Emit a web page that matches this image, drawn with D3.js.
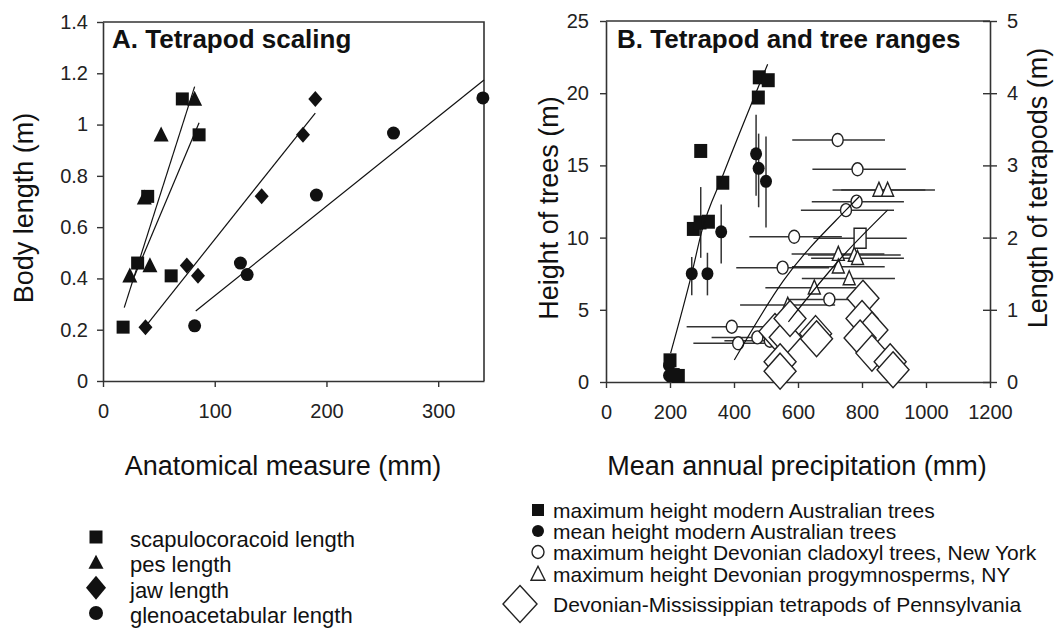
<!DOCTYPE html>
<html>
<head>
<meta charset="utf-8">
<script src="https://cdn.jsdelivr.net/npm/d3@7"></script>
<style>
  body { margin: 0; background: #fff; }
  svg { display: block; font-family: "Liberation Sans", Arial, sans-serif; }
</style>
</head>
<body>
<svg id="chart" width="1060" height="639"></svg>
<script>
// ---- panel A: anatomical measure (mm) vs body length (m)
const scapulocoracoid = [[18, 0.21], [31, 0.46], [40, 0.72], [61, 0.41], [71, 1.10], [86, 0.96]];
const pes = [[24, 0.41], [37, 0.715], [42, 0.45], [52, 0.96], [82, 1.10]];
const jaw = [[38, 0.21], [75, 0.45], [85, 0.41], [142, 0.72], [179, 0.96], [190, 1.10]];
const glenoacetabular = [[82, 0.215], [123, 0.46], [129, 0.415], [191, 0.725], [260, 0.967], [340, 1.104]];

const scapFit = [[28, 0.407], [86, 1.007]];
const pesFit = [[19, 0.286], [82, 1.148]];
const jawFit = [[39, 0.218], [190, 1.045]];
const glenoFit = [[83, 0.273], [341, 1.174]];

const aTicksX = [0, 100, 200, 300];
const aTicksY = [0, 0.2, 0.4, 0.6, 0.8, 1, 1.2, 1.4];

// ---- panel B: mean annual precipitation (mm) vs height (m)
// [precip, height]
const maxAustralian = [[200, 1.5], [210, 0.48], [226, 0.42], [273, 10.6], [294, 11.05], [320, 11.1],
  [296, 16.0], [365, 13.8], [476, 19.7], [479, 21.1], [507, 20.9]];
// [precip, height, low, high]
const meanAustralian = [[197, 1.15, 1.15, 1.15], [197, 0.45, 0.45, 0.45], [268, 7.5, 6.0, 8.65],
  [296, 11.0, 8.6, 13.5], [317, 7.5, 6.0, 8.95], [360, 10.4, 8.2, 12.3],
  [469, 15.8, 12.9, 18.5], [477, 14.8, 12.1, 17.2], [500, 13.9, 10.7, 17.0]];
// [precip, height, precip low, precip high]
const cladoxyl = [[724, 16.76, 582, 872], [786, 14.73, 645, 937], [783, 12.49, 643, 931],
  [750, 11.9, 609, 900], [588, 10.06, 448, 737], [552, 7.92, 407, 697], [698, 5.72, 564, 846],
  [393, 3.83, 252, 570], [413, 2.68, 273, 512], [473, 3.09, 330, 518], [512, 2.86, 370, 560]];
const progymno = [[853, 13.3, 708, 998], [880, 13.3, 735, 1028], [726, 8.86, 580, 870],
  [776, 8.8, 631, 921], [786, 8.57, 641, 931], [726, 7.98, 581, 871], [760, 7.17, 612, 903],
  [651, 6.53, 498, 792], [568, 5.33, 419, 716]];
const progymnoBox = [[794, 9.95, 648, 940]];
// [precip, tetrapod length (m)]
const tetrapods = [[528, 0.70], [560, 0.62], [575, 0.88], [655, 0.67], [658, 0.60], [544, 0.28], [544, 0.15],
  [803, 1.16], [800, 0.88], [831, 0.72], [794, 0.61], [831, 0.40], [888, 0.28], [897, 0.17]];

const australFit = [[202, 2.0], [268, 7.5], [300, 10.5], [365, 14.3], [505, 22.0]];
const cladoxylFit = [[401, 1.52], [554, 7.0], [752, 11.95], [791, 12.83]];
const progymnoFit = [[570, 4.17], [731, 8.5], [880, 11.9]];

const bTicksX = [0, 200, 400, 600, 800, 1000, 1200];
const bTicksY = [0, 5, 10, 15, 20, 25];
const bTicksY2 = [0, 1, 2, 3, 4, 5];

const legendA = ['scapulocoracoid length', 'pes length', 'jaw length', 'glenoacetabular length'];
const legendB = ['maximum height modern Australian trees', 'mean height modern Australian trees',
  'maximum height Devonian cladoxyl trees, New York', 'maximum height Devonian progymnosperms, NY',
  'Devonian-Mississippian tetrapods of Pennsylvania'];

const AXIS = '#333';
const INK = '#111';
const svg = d3.select('#chart');

main();

function main () {
  drawPanelA();
  drawPanelB();
  drawLegendA();
  drawLegendB();
}

// marker outline centred on 0,0
function shape (type, w, h) {
  if (type === 'square') return `M${-w / 2},${-h / 2}h${w}v${h}h${-w}Z`;
  if (type === 'triangle') return `M0,${-h * 0.55}L${w / 2},${h * 0.45}L${-w / 2},${h * 0.45}Z`;
  if (type === 'diamond') return `M0,${-h / 2}L${w / 2},0L0,${h / 2}L${-w / 2},0Z`;
  // ellipse
  const rx = w / 2, ry = h / 2;
  return `M${-rx},0a${rx},${ry} 0 1,0 ${w},0a${rx},${ry} 0 1,0 ${-w},0Z`;
}

function points (g, data, x, y, type, w, h, open) {
  g.append('g').selectAll('path').data(data).join('path')
    .attr('d', shape(type, w, h))
    .attr('transform', d => `translate(${x(d[0])},${y(d[1])})`)
    .attr('fill', open ? '#fff' : INK)
    .attr('stroke', open ? '#222' : 'none')
    .attr('stroke-width', open ? 1.4 : 0);
}

function fitLine (g, data, x, y) {
  const line = d3.line().x(d => x(d[0])).y(d => y(d[1])).curve(d3.curveMonotoneX);
  g.append('path').attr('d', line(data))
    .attr('fill', 'none').attr('stroke', INK).attr('stroke-width', 1.2);
}

function styleAxis (sel) {
  sel.select('.domain').attr('stroke', AXIS).attr('stroke-width', 1.6);
  sel.selectAll('.tick line').attr('stroke', AXIS).attr('stroke-width', 1.4);
  sel.selectAll('.tick text').attr('fill', '#222').attr('font-size', '20px')
    .attr('font-family', '"Liberation Sans", Arial, sans-serif');
}

function axisTitle (text, x, y, rotate) {
  svg.append('text').text(text)
    .attr('transform', `translate(${x},${y})` + (rotate ? ' rotate(-90)' : ''))
    .attr('text-anchor', 'middle')
    .attr('font-size', '27px')
    .attr('fill', '#111');
}

function panelTitle (text, x, y) {
  svg.append('text').text(text)
    .attr('x', x).attr('y', y)
    .attr('font-size', '26px')
    .attr('font-weight', 700)
    .attr('fill', '#111');
}

function drawPanelA () {
  const x = d3.scaleLinear().domain([0, 341]).range([103, 484]);
  const y = d3.scaleLinear().domain([0, 1.4]).range([381, 22]);
  const g = svg.append('g');
  const fmt = d3.format('~g');

  g.append('path')
    .attr('d', `M${x(0)},${y(1.4)}H${x(341)}V${y(0)}`)
    .attr('fill', 'none').attr('stroke', AXIS).attr('stroke-width', 1.6);

  g.append('g').attr('transform', `translate(0,${y(0)})`)
    .call(d3.axisBottom(x).tickValues(aTicksX).tickFormat(fmt).tickSize(6).tickSizeOuter(0).tickPadding(17))
    .call(styleAxis);
  g.append('g').attr('transform', `translate(${x(0)},0)`)
    .call(d3.axisLeft(y).tickValues(aTicksY).tickFormat(fmt).tickSize(6).tickSizeOuter(0).tickPadding(9))
    .call(styleAxis);

  fitLine(g, scapFit, x, y);
  fitLine(g, pesFit, x, y);
  fitLine(g, jawFit, x, y);
  fitLine(g, glenoFit, x, y);

  points(g, glenoacetabular, x, y, 'circle', 13, 13);
  points(g, jaw, x, y, 'diamond', 14, 16);
  points(g, pes, x, y, 'triangle', 15, 15);
  points(g, scapulocoracoid, x, y, 'square', 13, 13);

  panelTitle('A. Tetrapod scaling', 112, 48);
  axisTitle('Body length (m)', 33, 208, true);
  axisTitle('Anatomical measure (mm)', 283, 475, false);
}

function drawPanelB () {
  const x = d3.scaleLinear().domain([0, 1200]).range([606, 990]);
  const y = d3.scaleLinear().domain([0, 25]).range([382, 21]);
  const y2 = d3.scaleLinear().domain([0, 5]).range([382, 21]);
  const g = svg.append('g');
  const fmt = d3.format('d');

  g.append('line')
    .attr('x1', x(0)).attr('x2', x(1200)).attr('y1', y(25)).attr('y2', y(25))
    .attr('stroke', AXIS).attr('stroke-width', 1.6);

  g.append('g').attr('transform', `translate(0,${y(0)})`)
    .call(d3.axisBottom(x).tickValues(bTicksX).tickFormat(fmt).tickSize(6).tickSizeOuter(0).tickPadding(17))
    .call(styleAxis);
  g.append('g').attr('transform', `translate(${x(0)},0)`)
    .call(d3.axisLeft(y).tickValues(bTicksY).tickFormat(fmt).tickSize(6).tickSizeOuter(0).tickPadding(11))
    .call(styleAxis);
  const right = g.append('g').attr('transform', `translate(${x(1200)},0)`)
    .call(d3.axisRight(y2).tickValues(bTicksY2).tickFormat(fmt).tickSize(7).tickSizeOuter(0).tickPadding(10))
    .call(styleAxis);
  right.selectAll('.tick line').attr('x1', -7);

  // precipitation ranges
  const bars = g.append('g').attr('stroke', '#333').attr('stroke-width', 1.5);
  bars.selectAll('line.h').data(cladoxyl.concat(progymno, progymnoBox)).join('line')
    .attr('class', 'h')
    .attr('x1', d => x(d[2])).attr('x2', d => x(d[3]))
    .attr('y1', d => y(d[1])).attr('y2', d => y(d[1]));
  bars.selectAll('line.v').data(meanAustralian).join('line')
    .attr('class', 'v')
    .attr('x1', d => x(d[0])).attr('x2', d => x(d[0]))
    .attr('y1', d => y(d[2])).attr('y2', d => y(d[3]));

  points(g, meanAustralian, x, y, 'circle', 12, 13);
  points(g, maxAustralian, x, y, 'square', 13, 14);
  points(g, progymno, x, y, 'triangle', 12, 14, true);
  points(g, progymnoBox, x, y, 'square', 12, 20, true);
  points(g, cladoxyl, x, y, 'circle', 11, 13, true);
  points(g, tetrapods, x, y2, 'diamond', 32, 36, true);

  fitLine(g, australFit, x, y);
  fitLine(g, cladoxylFit, x, y);
  fitLine(g, progymnoFit, x, y);

  panelTitle('B. Tetrapod and tree ranges', 617, 48);
  axisTitle('Height of trees (m)', 558, 208, true);
  axisTitle('Length of tetrapods (m)', 1047, 188, true);
  axisTitle('Mean annual precipitation (mm)', 797, 475, false);
}

function drawLegendA () {
  const y = d3.scalePoint().domain(legendA).range([539, 615]);
  const types = [['square', 13, 13], ['triangle', 15, 14], ['diamond', 20, 24], ['circle', 14, 14]];
  const g = svg.append('g');
  legendA.forEach((label, i) => {
    const t = types[i];
    g.append('path').attr('d', shape(t[0], t[1], t[2]))
      .attr('transform', `translate(96,${y(label) - 2})`)
      .attr('fill', INK);
    g.append('text').text(label)
      .attr('x', 130).attr('y', y(label) + 8)
      .attr('font-size', '22px').attr('fill', '#111');
  });
}

function drawLegendB () {
  const rows = [510, 531, 552, 574, 604];
  const types = [['square', 12, 12, false], ['circle', 12, 12, false], ['circle', 12, 13, true],
    ['triangle', 14, 14, true], ['diamond', 34, 37, true]];
  const g = svg.append('g');
  legendB.forEach((label, i) => {
    const t = types[i];
    const mx = i === 4 ? 520 : 538;
    g.append('path').attr('d', shape(t[0], t[1], t[2]))
      .attr('transform', `translate(${mx},${rows[i]})`)
      .attr('fill', t[3] ? '#fff' : INK)
      .attr('stroke', t[3] ? '#222' : 'none')
      .attr('stroke-width', 1.4);
    g.append('text').text(label)
      .attr('x', 553).attr('y', rows[i] + 7.5)
      .attr('font-size', '21px').attr('fill', '#111');
  });
}
</script>
</body>
</html>
